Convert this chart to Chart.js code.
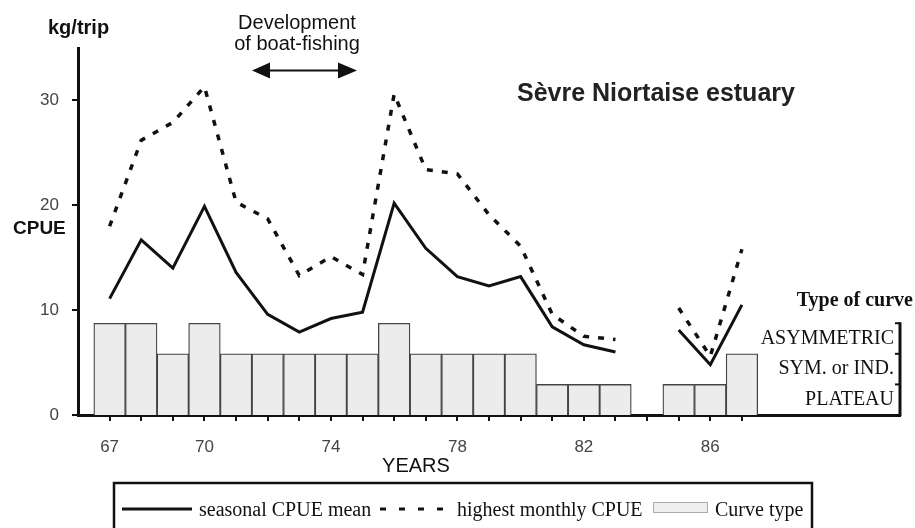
<!DOCTYPE html>
<html>
<head>
<meta charset="utf-8">
<script src="https://cdn.jsdelivr.net/npm/chart.js@4/dist/chart.umd.min.js"></script>
<style>
  html, body { margin: 0; padding: 0; background: #fff; }
</style>
</head>
<body>
<canvas id="grafico" width="915" height="528"></canvas>
<script>
// Dados
const anos = [67, 68, 69, 70, 71, 72, 73, 74, 75, 76, 77, 78, 79, 80, 81, 82, 83, 84, 85, 86, 87];
const mediaSazonal = [11.1, 16.7, 14.0, 19.9, 13.6, 9.6, 7.9, 9.2, 9.8, 20.2, 15.9, 13.2, 12.3, 13.2, 8.4, 6.7, 6.0, null, 8.1, 4.8, 10.5];
const maxMensal = [18.0, 26.2, 27.9, 31.3, 20.3, 18.7, 13.3, 15.1, 13.4, 30.6, 23.4, 23.0, 19.1, 16.1, 9.6, 7.5, 7.2, null, 10.2, 5.6, 15.8];
const tipoCurva = [3, 3, 2, 3, 2, 2, 2, 2, 2, 3, 2, 2, 2, 2, 1, 1, 1, null, 1, 1, 2];
const rotulosAnos = [67, 70, 74, 78, 82, 86];
const ticksCpue = [0, 10, 20, 30];
const nomesTipos = ['PLATEAU', 'SYM. or IND.', 'ASYMMETRIC'];

const SANS = "'Liberation Sans', Arial, sans-serif";
const SERIF = "'Liberation Serif', 'Times New Roman', serif";

// ================== ANOTAÇÕES ==================
const anotacoes = {
    id: 'anotacoes',
    afterDraw(chart) {
        const { ctx, chartArea, scales } = chart;
        const y2 = scales.y2;
        ctx.save();

        // eixo da direita (só de 0 a 3)
        const xd = chartArea.right;
        ctx.strokeStyle = '#111';
        ctx.lineWidth = 3;
        ctx.beginPath();
        ctx.moveTo(xd, y2.getPixelForValue(0) + 1);
        ctx.lineTo(xd, y2.getPixelForValue(3) - 1);
        ctx.stroke();
        ctx.lineWidth = 2;
        [1, 2, 3].forEach(v => {
            const py = y2.getPixelForValue(v);
            ctx.beginPath();
            ctx.moveTo(xd - 5, py);
            ctx.lineTo(xd, py);
            ctx.stroke();
        });

        ctx.fillStyle = '#111';
        ctx.textBaseline = 'alphabetic';

        ctx.font = 'bold 20px ' + SERIF;
        ctx.textAlign = 'right';
        ctx.fillText('Type of curve', 913, 306);

        ctx.textAlign = 'left';
        ctx.font = 'bold 20px ' + SANS;
        ctx.fillText('kg/trip', 48, 34);
        ctx.font = 'bold 19px ' + SANS;
        ctx.fillText('CPUE', 13, 234);

        ctx.font = 'bold 25px ' + SANS;
        ctx.fillStyle = '#222';
        ctx.fillText('Sèvre Niortaise estuary', 517, 101);

        ctx.fillStyle = '#111';
        ctx.font = '20px ' + SANS;
        ctx.textAlign = 'center';
        ctx.fillText('Development', 297, 29);
        ctx.fillText('of boat-fishing', 297, 50);
        ctx.fillText('YEARS', 416, 472);

        // seta
        ctx.lineWidth = 2;
        ctx.beginPath();
        ctx.moveTo(268, 70.5);
        ctx.lineTo(340, 70.5);
        ctx.stroke();
        ctx.beginPath();
        ctx.moveTo(252, 70.5); ctx.lineTo(270, 62.5); ctx.lineTo(270, 78.5); ctx.closePath();
        ctx.moveTo(357, 70.5); ctx.lineTo(338, 62.5); ctx.lineTo(338, 78.5); ctx.closePath();
        ctx.fill();

        // legenda
        ctx.lineWidth = 2.5;
        ctx.strokeRect(114, 483, 698, 50);
        ctx.lineWidth = 3;
        ctx.beginPath();
        ctx.moveTo(122, 509); ctx.lineTo(192, 509);
        ctx.stroke();
        ctx.setLineDash([6, 13]);
        ctx.beginPath();
        ctx.moveTo(380, 509); ctx.lineTo(446, 509);
        ctx.stroke();
        ctx.setLineDash([]);
        ctx.fillStyle = '#eeeeee';
        ctx.fillRect(653, 502, 54, 10);
        ctx.strokeStyle = '#aaa';
        ctx.lineWidth = 1;
        ctx.strokeRect(653.5, 502.5, 54, 10);

        ctx.fillStyle = '#111';
        ctx.font = '20px ' + SERIF;
        ctx.textAlign = 'left';
        ctx.fillText('seasonal CPUE mean', 199, 516);
        ctx.fillText('highest monthly CPUE', 457, 516);
        ctx.fillText('Curve type', 715, 516);

        ctx.restore();
    }
};

// ================== GRÁFICO ==================
const pontos = valores => anos.map((a, i) => ({ x: a, y: valores[i] }));

new Chart(document.getElementById('grafico'), {
    data: {
        datasets: [
            {
                type: 'line',
                label: 'seasonal CPUE mean',
                data: pontos(mediaSazonal),
                borderColor: '#111',
                borderWidth: 3,
                pointRadius: 0,
                spanGaps: false,
                tension: 0,
                yAxisID: 'y',
                order: 0
            },
            {
                type: 'line',
                label: 'highest monthly CPUE',
                data: pontos(maxMensal),
                borderColor: '#111',
                borderWidth: 3.5,
                borderDash: [6, 9],
                pointRadius: 0,
                spanGaps: false,
                tension: 0,
                yAxisID: 'y',
                order: 1
            },
            {
                type: 'bar',
                label: 'Curve type',
                data: pontos(tipoCurva),
                backgroundColor: '#ececec',
                borderColor: '#444',
                borderWidth: 1.3,
                barPercentage: 1,
                categoryPercentage: 1,
                yAxisID: 'y2',
                order: 2
            }
        ]
    },
    options: {
        responsive: false,
        animation: false,
        devicePixelRatio: 1,
        layout: { padding: { top: 48, left: 0, right: 0, bottom: 0 } },
        plugins: {
            legend: { display: false },
            tooltip: { enabled: false }
        },
        scales: {
            x: {
                type: 'linear',
                offset: false,
                min: 66,
                max: 92,
                afterBuildTicks: s => { s.ticks = anos.map(v => ({ value: v })); },
                afterFit: s => { s.height = 113; },
                ticks: {
                    autoSkip: false,
                    maxRotation: 0,
                    padding: 16,
                    color: '#444',
                    font: { family: SANS, size: 17 },
                    callback: v => rotulosAnos.includes(v) ? String(v) : ''
                },
                grid: { drawOnChartArea: false, offset: false, tickLength: 6, color: '#111', lineWidth: 2 },
                border: { color: '#111', width: 3 }
            },
            y: {
                position: 'left',
                min: 0,
                max: 35,
                afterBuildTicks: s => { s.ticks = ticksCpue.map(v => ({ value: v })); },
                afterFit: s => { s.width = 78; },
                ticks: {
                    padding: 13,
                    color: '#444',
                    font: { family: SANS, size: 17 }
                },
                grid: { drawOnChartArea: false, tickLength: 6, color: '#111', lineWidth: 2 },
                border: { color: '#111', width: 3 }
            },
            y2: {
                position: 'right',
                min: 0,
                max: 12,
                afterBuildTicks: s => { s.ticks = [0.5, 1.5, 2.5].map(v => ({ value: v })); },
                afterFit: s => { s.width = 15; },
                ticks: {
                    mirror: true,
                    padding: -6,
                    color: '#111',
                    font: { family: SERIF, size: 20 },
                    callback: v => nomesTipos[Math.floor(v)]
                },
                grid: { display: false, drawTicks: false },
                border: { display: false }
            }
        }
    },
    plugins: [anotacoes]
});
</script>
</body>
</html>
